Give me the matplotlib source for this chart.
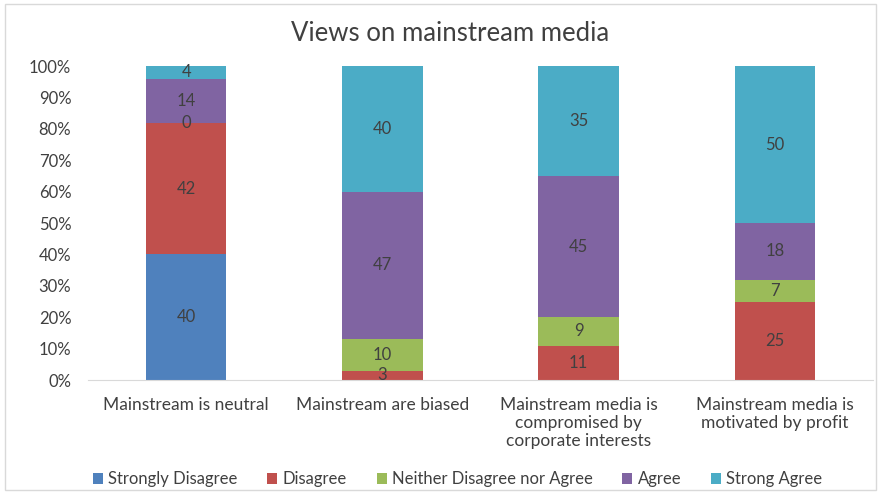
import numpy as np
import matplotlib
matplotlib.use("Agg")
from matplotlib import pyplot as plt
from matplotlib.patches import Rectangle

plt.rcParams['font.family'] = ['Lato', 'DejaVu Sans']

#### data
categories = ["Mainstream is neutral", "Mainstream are biased",
              "Mainstream media is\ncompromised by\ncorporate interests",
              "Mainstream media is\nmotivated by profit"]
series_names = ["Strongly Disagree", "Disagree", "Neither Disagree nor Agree",
                "Agree", "Strong Agree"]
strongly_disagree = [40, None, None, None]
disagree = [42, 3, 11, 25]
neither = [0, 10, 9, 7]
agree = [14, 47, 45, 18]
strong_agree = [4, 40, 35, 50]
colors = ["#4F81BD", "#C0504D", "#9BBB59", "#8064A2", "#4BACC6"]

series = [strongly_disagree, disagree, neither, agree, strong_agree]

fig = plt.figure(figsize=(8.8, 4.93), dpi=100)
ax = fig.add_axes([0.1, 0.229, 0.892, 0.637])

# chart border
fig.patches.append(Rectangle((0.006, 0.006), 0.99, 0.985, transform=fig.transFigure,
                             fill=False, edgecolor="#D9D9D9", linewidth=1))

x = np.arange(len(categories))
vals = np.array([[v if v is not None else 0 for v in s] for s in series], dtype=float)
totals = vals.sum(axis=0)
bottom = np.zeros(len(categories))
for name, s, c, row in zip(series_names, series, colors, vals):
    pct = row / totals * 100
    ax.bar(x, pct, 0.41, bottom=bottom, color=c, label=name)
    for i, v in enumerate(s):
        if v is not None:
            ax.text(x[i], bottom[i] + pct[i] / 2, str(v), ha="center", va="center",
                    fontsize=12, color="#404040")
    bottom += pct

ax.set_xlim(-0.5, 3.5)
ax.set_ylim(0, 100)
ax.set_yticks(np.arange(0, 101, 10))
ax.set_yticklabels([f"{t}%" for t in range(0, 101, 10)], fontsize=12, color="#404040")
ax.set_xticks(x)
ax.set_xticklabels(categories, fontsize=12.5, color="#404040", linespacing=1.15)
ax.tick_params(axis="both", length=0)
ax.tick_params(axis="x", pad=12)
ax.tick_params(axis="y", pad=12)
for sp in ["top", "right", "left"]:
    ax.spines[sp].set_visible(False)
ax.spines["bottom"].set_color("#D9D9D9")

fig.text(0.511, 0.932, "Views on mainstream media", ha="center", va="center",
         fontsize=18.5, color="#404040")
fig.legend(loc="center", bbox_to_anchor=(0.52, 0.028), ncol=5, frameon=False,
           fontsize=12, handlelength=0.6, handleheight=0.6, handletextpad=0.3,
           columnspacing=1.8, labelcolor="#404040")

fig.savefig("out.png", dpi=100)
